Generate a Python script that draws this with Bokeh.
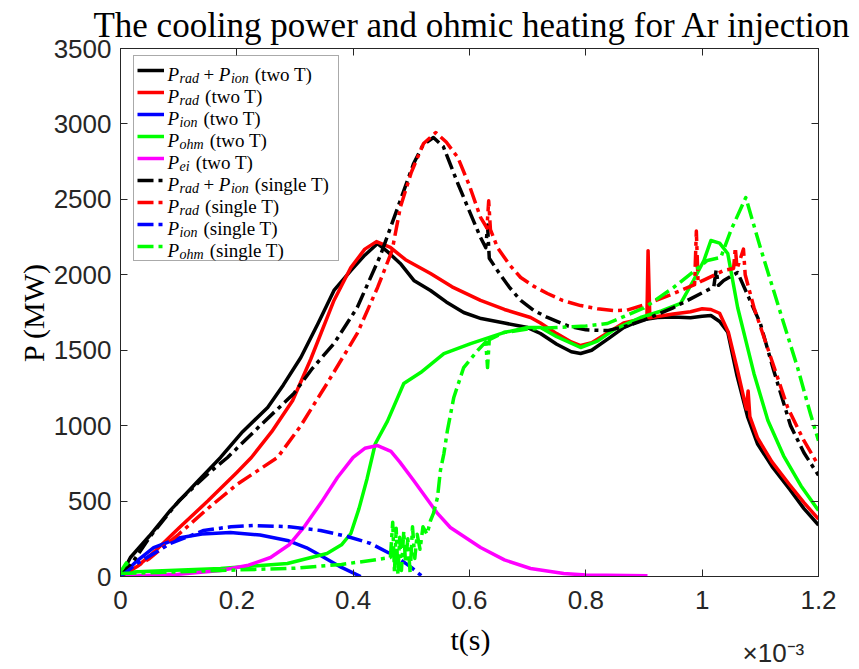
import math
from bokeh.plotting import figure
from bokeh.models import (Range1d, LinearAxis, FixedTicker, CustomJSTickFormatter,
                          Legend, LegendItem, Label)
from bokeh.core.properties import value
from bokeh.embed import file_html
from bokeh.resources import INLINE

# ---------------- data (time in units of 1e-3 s, power in MW) ----------------
t_prad_ion_two = [0, 0.017, 0.05, 0.086, 0.13, 0.172, 0.21, 0.253, 0.28, 0.31, 0.34, 0.367, 0.396, 0.42, 0.442,
                  0.46, 0.481, 0.505, 0.533, 0.56, 0.59, 0.62, 0.66, 0.7, 0.722, 0.75, 0.775, 0.791, 0.81, 0.84,
                  0.865, 0.895, 0.923, 0.95, 0.98, 1.0, 1.015, 1.03, 1.044, 1.06, 1.078, 1.095, 1.12, 1.15, 1.175, 1.2]
P_prad_ion_two = [0, 126, 270, 440, 620, 789, 960, 1120, 1270, 1452, 1680, 1896, 2028, 2130, 2207,
                  2150, 2075, 1960, 1896, 1820, 1750, 1710, 1680, 1650, 1611, 1540, 1490, 1478, 1500, 1580,
                  1650, 1700, 1717, 1720, 1715, 1725, 1730, 1690, 1620, 1330, 1060, 880, 730, 580, 450, 340]

t_prad_two = [0, 0.03, 0.06, 0.1, 0.15, 0.2, 0.225, 0.26, 0.296, 0.327, 0.367, 0.396, 0.42, 0.44, 0.464,
              0.49, 0.533, 0.57, 0.619, 0.66, 0.705, 0.722, 0.75, 0.775, 0.791, 0.81, 0.84, 0.865, 0.9, 0.905,
              0.907, 0.91, 0.95, 0.98, 1.0, 1.015, 1.03, 1.045, 1.06, 1.076, 1.079, 1.082, 1.095, 1.12, 1.15,
              1.175, 1.2]
P_prad_two = [0, 70, 170, 320, 500, 690, 789, 960, 1167, 1440, 1830, 2048, 2170, 2220, 2181,
              2100, 2008, 1920, 1830, 1770, 1717, 1680, 1610, 1555, 1531, 1550, 1620, 1680, 1710, 1712,
              2160, 1715, 1740, 1755, 1775, 1770, 1745, 1620, 1380, 1110, 1230, 1060, 920, 760, 610,
              490, 380]

t_pion_two = [0, 0.029, 0.057, 0.1, 0.14, 0.189, 0.24, 0.287, 0.32, 0.344, 0.38, 0.413]
P_pion_two = [0, 106, 192, 255, 282, 292, 275, 239, 190, 139, 60, 0]

t_pohm_two = [0, 0.01, 0.02, 0.05, 0.172, 0.287, 0.355, 0.38, 0.396, 0.41, 0.424, 0.438, 0.459, 0.487, 0.516,
              0.556, 0.602, 0.659, 0.7, 0.722, 0.75, 0.791, 0.82, 0.85, 0.894, 0.93, 0.963, 0.985, 1.003, 1.015,
              1.03, 1.044, 1.061, 1.089, 1.113, 1.14, 1.17, 1.2]
P_pohm_two = [30, 90, 30, 35, 53, 86, 152, 210, 285, 450, 650, 880, 1030, 1279, 1352,
              1478, 1544, 1617, 1650, 1650, 1590, 1518, 1560, 1640, 1717, 1760, 1810, 1962, 2095, 2227,
              2210, 2141, 1783, 1346, 1034, 800, 600, 437]

t_pei_two = [0, 0.1, 0.172, 0.22, 0.258, 0.29, 0.315, 0.345, 0.373, 0.4, 0.42, 0.442, 0.465, 0.48, 0.504,
             0.545, 0.567, 0.619, 0.66, 0.705, 0.762, 0.8, 0.906]
P_pei_two = [0, 15, 40, 75, 126, 210, 325, 490, 656, 790, 850, 868, 830, 760, 636,
             418, 325, 192, 110, 53, 20, 10, 5]

t_prad_ion_single = [0, 0.02, 0.05, 0.1, 0.15, 0.184, 0.24, 0.298, 0.33, 0.367, 0.407, 0.447, 0.481, 0.504, 0.52,
                     0.538, 0.555, 0.58, 0.6, 0.619, 0.628, 0.631, 0.634, 0.648, 0.668, 0.688, 0.71, 0.734, 0.77,
                     0.8, 0.837, 0.87, 0.9, 0.951, 0.98, 1.0, 1.02, 1.024, 1.028, 1.037, 1.061, 1.08, 1.1, 1.123,
                     1.152, 1.175, 1.2]
P_prad_ion_single = [0, 90, 260, 500, 680, 789, 1000, 1213, 1380, 1544, 1783, 2130, 2492, 2738, 2860,
                     2910, 2850, 2605, 2420, 2247, 2180, 2330, 2110, 2028, 1920, 1830, 1765, 1717, 1660,
                     1635, 1630, 1660, 1700, 1783, 1840, 1880, 1920, 2030, 1930, 1962, 2015, 1850, 1677, 1365,
                     1000, 820, 670]

t_prad_single = [0, 0.05, 0.1, 0.15, 0.2, 0.27, 0.31, 0.355, 0.407, 0.442, 0.467, 0.481, 0.5, 0.521, 0.542,
                 0.56, 0.58, 0.6, 0.619, 0.63, 0.633, 0.636, 0.648, 0.668, 0.688, 0.71, 0.734, 0.76, 0.791, 0.82,
                 0.848, 0.87, 0.9, 0.951, 0.987, 0.99, 0.993, 1.0, 1.037, 1.054, 1.057, 1.06, 1.071, 1.074, 1.089,
                 1.118, 1.147, 1.175, 1.2]
P_prad_single = [0, 120, 280, 450, 610, 789, 1000, 1279, 1611, 1916, 2161, 2446, 2680, 2870, 2943,
                 2880, 2777, 2590, 2380, 2310, 2490, 2300, 2181, 2070, 1982, 1925, 1876, 1830, 1796, 1775,
                 1763, 1765, 1800, 1876, 1935, 2290, 1945, 1960, 2028, 2042, 2180, 2040, 2170, 2000, 1783,
                 1452, 1120, 900, 736]

t_pion_single = [0, 0.03, 0.086, 0.143, 0.19, 0.229, 0.29, 0.344, 0.39, 0.43, 0.476, 0.5, 0.519]
P_pion_single = [0, 90, 219, 305, 330, 338, 330, 305, 265, 219, 126, 60, 0]

t_pohm_single = [0, 0.05, 0.172, 0.3, 0.38, 0.43, 0.464, 0.468, 0.471, 0.474, 0.477, 0.48, 0.483, 0.487, 0.49,
                 0.494, 0.498, 0.502, 0.506, 0.51, 0.515, 0.52, 0.527, 0.533, 0.538, 0.545, 0.55, 0.556, 0.562,
                 0.573, 0.59, 0.614, 0.628, 0.631, 0.634, 0.659, 0.7, 0.75, 0.8, 0.837, 0.9, 0.951, 1.009, 1.032,
                 1.05, 1.075, 1.1, 1.135, 1.164, 1.186, 1.2]
P_pohm_single = [20, 25, 40, 55, 80, 106, 126, 360, 30, 320, 10, 260, 40, 300, 90,
                 250, 20, 330, 120, 280, 180, 330, 280, 371, 418, 524, 703, 815, 968,
                 1187, 1385, 1498, 1555, 1385, 1570, 1617, 1640, 1650, 1660, 1677, 1780, 1916, 2095, 2115,
                 2300, 2512, 2181, 1743, 1385, 1080, 900]

x_ticks = [0, 0.2, 0.4, 0.6, 0.8, 1.0, 1.2]
y_ticks = [0, 500, 1000, 1500, 2000, 2500, 3000, 3500]

title_text = "The cooling power and ohmic heating for Ar injection"
y_label_text = "P (MW)"
x_label_text = "t(s)"
exponent_text = "\u00d710\u207b\u00b3"

# ---------------- figure ----------------
W, H = 859, 667
FL, FR, FT, FB = 120, 818, 48, 576   # frame edges in canvas pixels
p = figure(width=W, height=H, output_backend="svg", toolbar_location=None,
           x_range=Range1d(0, 1.2), y_range=Range1d(0, 3500),
           min_border_left=FL, min_border_right=W - FR, min_border_top=FT, min_border_bottom=H - FB)
p.background_fill_color = "white"
p.border_fill_color = "white"
p.grid.visible = False
p.outline_line_color = "#262626"
p.outline_line_width = 1

AX = "#262626"
TICKFONT = "Liberation Sans"

p.xaxis.ticker = FixedTicker(ticks=x_ticks, minor_ticks=[])
p.yaxis.ticker = FixedTicker(ticks=y_ticks, minor_ticks=[])
p.xaxis.formatter = CustomJSTickFormatter(code="return (Math.round(tick*10)/10).toString();")
p.yaxis.formatter = CustomJSTickFormatter(code="return Math.round(tick).toString();")
for ax in (p.xaxis[0], p.yaxis[0]):
    ax.axis_line_color = AX
    ax.major_tick_line_color = AX
    ax.major_tick_in = 7
    ax.major_tick_out = 0
    ax.minor_tick_line_color = None
    ax.major_label_text_font = TICKFONT
    ax.major_label_text_font_size = "26px"
    ax.major_label_text_color = AX
p.xaxis.major_label_standoff = 14
p.yaxis.major_label_standoff = 9

top_ax = LinearAxis(ticker=FixedTicker(ticks=x_ticks, minor_ticks=[]),
                    formatter=CustomJSTickFormatter(code="return '';"))
right_ax = LinearAxis(ticker=FixedTicker(ticks=y_ticks, minor_ticks=[]),
                      formatter=CustomJSTickFormatter(code="return '';"))
for ax in (top_ax, right_ax):
    ax.axis_line_color = AX
    ax.major_tick_line_color = AX
    ax.major_tick_in = 7
    ax.major_tick_out = 0
    ax.minor_tick_line_color = None
    ax.major_label_standoff = 0
    ax.major_label_text_font_size = "1px"
p.add_layout(top_ax, "above")
p.add_layout(right_ax, "right")

LW = 3.5
DASH = "16 5 4 5"
series = [
    (t_prad_ion_two, P_prad_ion_two, "black", "solid"),
    (t_prad_two, P_prad_two, "#ff0000", "solid"),
    (t_pion_two, P_pion_two, "#0000ff", "solid"),
    (t_pohm_two, P_pohm_two, "#00ff00", "solid"),
    (t_pei_two, P_pei_two, "#ff00ff", "solid"),
    (t_prad_ion_single, P_prad_ion_single, "black", DASH),
    (t_prad_single, P_prad_single, "#ff0000", DASH),
    (t_pion_single, P_pion_single, "#0000ff", DASH),
    (t_pohm_single, P_pohm_single, "#00ff00", DASH),
]
renderers = []
for tx, py_, col, dash in series:
    r = p.line(tx, py_, line_color=col, line_width=LW, line_dash=dash, line_join="round")
    renderers.append(r)

legend = Legend(items=[LegendItem(label=value(" "), renderers=[r]) for r in renderers],
                location=(13, 315), orientation="vertical",
                padding=3, spacing=0, margin=0,
                label_height=22, glyph_height=22, glyph_width=27, label_standoff=4,
                label_width=167, label_text_font_size="8px",
                border_line_color="#555555", border_line_width=1,
                background_fill_color="white", background_fill_alpha=0.0)
p.add_layout(legend)

# ---------------- text helpers (canvas pixel layout -> data units) ----------------
def X(px):
    return (px - FL) * 1.2 / (FR - FL)

def Y(py):
    return (FB - py) * 3500.0 / (FB - FT)

SERIF = "Liberation Serif"

def add_text(px, py, text, size, style="normal", font=SERIF, align="left", angle=0.0,
             color="black", place="center"):
    lab = Label(x=X(px), y=Y(py), text=text, text_font=font, text_font_size=f"{size}px",
                text_font_style=style, text_align=align, text_baseline="alphabetic",
                angle=angle, text_color=color, level="overlay")
    if place == "center":
        p.add_layout(lab)
    else:
        p.add_layout(lab, place)

IT = {'P': 0.611, 'r': 0.389, 'a': 0.5, 'd': 0.5, 'i': 0.278, 'o': 0.5, 'n': 0.5, 'h': 0.5,
      'm': 0.722, 'e': 0.444, 't': 0.278}
RM = {' ': 0.25, '+': 0.564, '(': 0.333, ')': 0.333, 't': 0.278, 'w': 0.722, 'o': 0.5, 'T': 0.611,
      's': 0.389, 'i': 0.278, 'n': 0.5, 'g': 0.5, 'l': 0.278, 'e': 0.444, 'M': 0.889, 'W': 0.944}

def tw(s, table, size):
    return sum(table.get(c, 0.5) for c in s) * size

# title (outside the frame -> side panel, so it is not clipped)
add_text(472, 25, title_text, 35, align="center", place="above")

# legend texts (inside the frame)
legend_rows = [
    (["rad", "ion"], "(two T)"),
    (["rad"], "(two T)"),
    (["ion"], "(two T)"),
    (["ohm"], "(two T)"),
    (["ei"], "(two T)"),
    (["rad", "ion"], "(single T)"),
    (["rad"], "(single T)"),
    (["ion"], "(single T)"),
    (["ohm"], "(single T)"),
]
MAIN, SUB = 19, 14
for i, (subs, tail) in enumerate(legend_rows):
    base = 68 + 22 * i + 6
    x = 167.0
    for k, s in enumerate(subs):
        if k > 0:
            x += 4.5
            add_text(x, base, "+", MAIN)
            x += tw("+", RM, MAIN) + 4.5
        add_text(x, base, "P", MAIN, style="italic")
        x += tw("P", IT, MAIN) + 0.5
        add_text(x, base + 4, s, SUB, style="italic")
        x += tw(s, IT, SUB)
    x += 6.0
    add_text(x, base, tail, MAIN)

# y axis label (rotated), one text in the left panel
add_text(33, 312, y_label_text, 30, align="center", angle=math.pi / 2, place="left")

# x axis label: drawn under the axis, its layout slot taken from the (roomy) right panel
add_text(470, 639, x_label_text, 30, align="center", place="right")

# exponent, layout slot in the bottom panel
add_text(742, 652, exponent_text, 26, font=TICKFONT, color=AX, place="below")

open("out.html", "w").write(file_html(p, INLINE))
